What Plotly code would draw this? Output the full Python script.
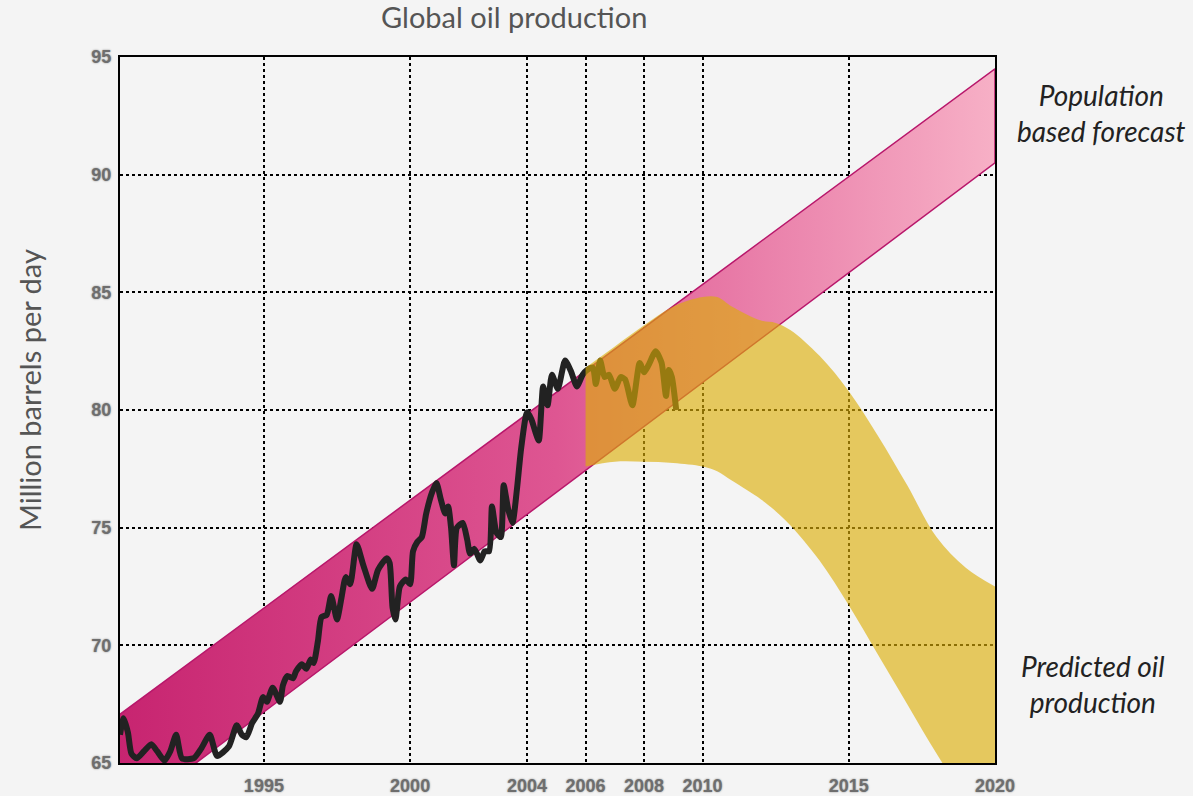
import plotly.graph_objects as go

# ---- data ----
band_years = [1990, 2020]
band_upper = [67.0, 94.5]
band_lower = [62.5, 90.5]

pred_years = [2006, 2007, 2008, 2009, 2010, 2010.5, 2011, 2012, 2012.5, 2013, 2014, 2015, 2016, 2017, 2018, 2019, 2020]
pred_upper = [81.8, 82.7, 83.6, 84.4, 84.8, 84.8, 84.4, 83.8, 83.7, 83.4, 82.3, 80.8, 78.9, 76.8, 74.6, 73.3, 72.5]
pred_lower = [77.6, 77.8, 77.8, 77.75, 77.6, 77.4, 77.0, 76.2, 75.7, 75.1, 73.6, 71.7, 69.6, 67.5, 65.4, 63.5, 61.8]

prod_years = [1990.08, 1990.2, 1990.35, 1990.47, 1990.65, 1990.9, 1991.15, 1991.35, 1991.6, 1991.8,
              1992.0, 1992.2, 1992.6, 1992.85, 1993.15, 1993.4, 1993.8, 1994.07, 1994.25, 1994.4,
              1994.6, 1994.8, 1994.97, 1995.1, 1995.3, 1995.55, 1995.65, 1995.8, 1996.0, 1996.1,
              1996.3, 1996.45, 1996.6, 1996.7, 1996.85, 1996.97, 1997.15, 1997.3, 1997.5, 1997.65,
              1997.8, 1997.95, 1998.17, 1998.4, 1998.7, 1998.9, 1999.2, 1999.3, 1999.4, 1999.5,
              1999.65, 1999.85, 2000.0, 2000.1, 2000.25, 2000.4, 2000.55, 2000.75, 2000.9, 2001.05,
              2001.2, 2001.3, 2001.4, 2001.5, 2001.6, 2001.8, 2001.95, 2002.05, 2002.2, 2002.4,
              2002.55, 2002.7, 2002.8, 2002.95, 2003.1, 2003.2, 2003.35, 2003.5, 2003.65, 2003.8,
              2004.0, 2004.15, 2004.3, 2004.4, 2004.55, 2004.7, 2004.85, 2005.05, 2005.3, 2005.5,
              2005.7, 2005.9, 2006.05, 2006.25, 2006.35, 2006.5, 2006.65, 2006.8, 2007.0, 2007.2,
              2007.35, 2007.6, 2007.85, 2008.0, 2008.15, 2008.4, 2008.6, 2008.75, 2008.85, 2008.95,
              2009.1]
prod_values = [66.2, 66.9, 66.3, 65.4, 65.2, 65.5, 65.8, 65.5, 65.1, 65.5,
               66.2, 65.2, 65.2, 65.6, 66.2, 65.3, 65.7, 66.6, 66.2, 66.1,
               66.7, 67.1, 67.8, 67.6, 68.2, 67.6, 68.3, 68.7, 68.6, 68.9,
               69.2, 69.0, 69.4, 69.25, 70.2, 71.2, 71.3, 72.1, 71.1, 72.0,
               72.9, 72.6, 74.3, 73.4, 72.4, 73.2, 73.7, 73.5, 71.6, 71.1,
               72.5, 72.8, 72.6, 74.0, 74.4, 74.6, 75.6, 76.5, 76.9, 76.2,
               75.6, 75.9, 75.0, 73.4, 75.0, 75.2, 74.5, 73.9, 74.1, 73.6,
               74.0, 74.0, 75.9, 74.8, 74.6, 76.8, 75.8, 75.2, 76.6, 78.4,
               79.9, 79.6, 79.0, 78.7, 81.0, 80.2, 81.5, 80.9, 82.1, 81.65,
               81.0, 81.5, 81.7, 81.8, 81.1, 82.1, 81.4, 81.5, 80.9, 81.4,
               81.3, 80.2, 82.0, 81.6, 81.9, 82.5, 82.0, 80.6, 81.7, 81.4,
               80.0]

x_ticks = [1995, 2000, 2004, 2006, 2008, 2010, 2015, 2020]
y_ticks = [65, 70, 75, 80, 85, 90, 95]

W, H = 1193, 796
ML, MR, MT, MB = 120, 198, 57, 33
PW, PH = W - ML - MR, H - MT - MB


def px(x):
    return (x - ML) / PW


def py(y):
    return 1 - (y - MT) / PH


fig = go.Figure()

# population based forecast band (gradient)
fig.add_trace(go.Scatter(
    x=band_years + band_years[::-1],
    y=band_upper + band_lower[::-1],
    mode="lines", fill="toself",
    line=dict(color="#B8176B", width=1.5),
    fillgradient=dict(type="horizontal",
                      colorscale=[[0, "rgb(199,36,112)"], [0.5, "rgb(222,86,146)"], [1, "rgb(247,176,198)"]]),
    hoverinfo="skip", showlegend=False))

# production line
fig.add_trace(go.Scatter(
    x=prod_years, y=prod_values, mode="lines",
    line=dict(color="#222222", width=6, shape="spline", smoothing=0.6),
    showlegend=False))

# predicted production band
fig.add_trace(go.Scatter(
    x=pred_years, y=pred_lower, mode="lines",
    line=dict(width=0, shape="spline", color="rgba(0,0,0,0)"),
    hoverinfo="skip", showlegend=False))
fig.add_trace(go.Scatter(
    x=pred_years, y=pred_upper, mode="lines", fill="tonexty",
    fillcolor="rgba(220,174,7,0.63)",
    line=dict(width=0, shape="spline", color="rgba(0,0,0,0)"),
    hoverinfo="skip", showlegend=False))

tickfont = dict(family="Liberation Sans", size=18, color="#6e6e6e", weight="bold",
                shadow="0px 0px 2px #8a8a8a")

label_font = dict(family="Lato", size=29, color="#555555")
note_font = dict(family="Lato", size=28, color="#222222", style="italic")

fig.update_layout(
    width=W, height=H,
    margin=dict(l=ML, r=MR, t=MT, b=MB),
    paper_bgcolor="#F4F4F4", plot_bgcolor="#F4F4F4",
    xaxis=dict(range=[1990.08, 2020], tickvals=x_ticks, ticktext=[str(v) for v in x_ticks],
               showgrid=True, gridcolor="black", griddash="dot", gridwidth=2,
               showline=True, linecolor="black", linewidth=2, mirror=True, automargin=False,
               zeroline=False, tickfont=tickfont, ticks="", ticklabelstandoff=5),
    yaxis=dict(range=[65, 95], tickvals=y_ticks,
               showgrid=True, gridcolor="black", griddash="dot", gridwidth=2,
               showline=True, linecolor="black", linewidth=2, mirror=True, automargin=False,
               zeroline=False, tickfont=tickfont, ticks="", ticklabelstandoff=3),
    annotations=[
        dict(text="Global oil production", x=px(514), y=py(17), font=label_font),
        dict(text="Million barrels per day", x=px(30), y=py(390), textangle=-90, font=label_font),
        dict(text="Population<br>based forecast", x=px(1101), y=py(113), font=note_font),
        dict(text="Predicted oil<br>production", x=px(1093), y=py(684), font=note_font),
    ],
)
fig.update_annotations(xref="paper", yref="paper", showarrow=False,
                       xanchor="center", yanchor="middle")

fig.write_html("out.html", config={"displayModeBar": False},
               post_script="document.body.style.margin='0px';")
